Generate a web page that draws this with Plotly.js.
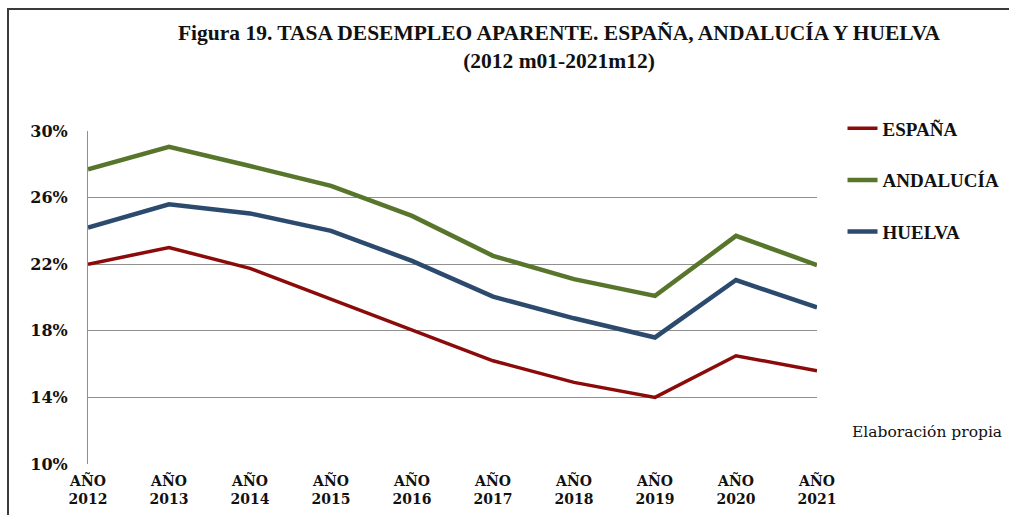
<!DOCTYPE html>
<html><head><meta charset="utf-8">
<script src="https://cdn.plot.ly/plotly-3.0.1.min.js"></script>
<style>
html,body{margin:0;padding:0;background:#fff;overflow:hidden;}
#wrap{position:relative;width:1009px;height:515px;overflow:hidden;}
#chart{width:1009px;height:515px;}
#frame{position:absolute;left:7px;top:8px;width:1200px;height:700px;border-left:2px solid #3a3a3a;border-top:2px solid #3a3a3a;pointer-events:none;}
</style></head>
<body>
<div id="wrap"><div id="chart"></div><div id="frame"></div></div>
<script>
const years = ["2012","2013","2014","2015","2016","2017","2018","2019","2020","2021"];
const categories = years.map(y => "AÑO<br>" + y);
const espana    = [22.0, 23.0, 21.75, 19.9, 18.05, 16.2, 14.9, 14.0, 16.5, 15.6];
const andalucia = [27.7, 29.05, 27.9, 26.7, 24.9, 22.5, 21.1, 20.1, 23.7, 21.95];
const huelva    = [24.2, 25.6, 25.05, 24.0, 22.2, 20.05, 18.75, 17.6, 21.05, 19.4];
const seriesNames = ["ESPAÑA", "ANDALUCÍA", "HUELVA"];
const yTicks = [10, 14, 18, 22, 26, 30];

const serif = "Liberation Serif, DejaVu Serif, serif";
const dserif = "DejaVu Serif, serif";
const colors = ["#8b0a0a", "#58762b", "#2c4a6e"];
const widths = [3.5, 4.5, 4.5];
const data = [espana, andalucia, huelva].map((vals, i) => ({
  type: "scatter", mode: "lines", x: categories, y: vals, name: seriesNames[i],
  legendgroup: "g" + i,
  line: {color: colors[i], width: widths[i]},
  hoverinfo: "skip"
}));

const layout = {
  width: 1009, height: 515,
  margin: {l: 88, r: 192, t: 131, b: 51, autoexpand: false},
  paper_bgcolor: "#fff", plot_bgcolor: "#fff",
  showlegend: true,
  title: {
    text: "Figura 19. TASA DESEMPLEO APARENTE. ESPAÑA, ANDALUCÍA Y HUELVA<br>(2012 m01-2021m12)",
    font: {family: serif, size: 21.5, color: "#111", weight: "bold"},
    x: 0.554, xref: "container", xanchor: "center",
    y: 0.922, yref: "container", yanchor: "top"
  },
  xaxis: {
    type: "category", range: [0, 9], showgrid: false, zeroline: false,
    showline: false, ticks: "", ticklabelstandoff: 7,
    tickfont: {family: dserif, size: 14, color: "#111", weight: "bold"}
  },
  yaxis: {
    range: [10, 30], tickvals: yTicks, ticktext: yTicks.map(v => v + "%"),
    showgrid: true, gridcolor: "#8f8f8f", gridwidth: 1,
    showline: true, linecolor: "#8f8f8f", linewidth: 1,
    zeroline: false, ticks: "", ticklabelstandoff: 16,
    tickfont: {family: dserif, size: 16, color: "#111", weight: "bold"}
  },
  legend: {
    x: 1.035, xanchor: "left", y: 1.065, yanchor: "top",
    font: {family: serif, size: 19, color: "#111", weight: "bold"},
    tracegroupgap: 24, traceorder: "grouped", bgcolor: "rgba(0,0,0,0)"
  },
  annotations: [{
    text: "Elaboración propia", xref: "paper", yref: "paper",
    x: 1.256, xanchor: "right", y: 0.095, yanchor: "middle", showarrow: false,
    font: {family: dserif, size: 15.5, color: "#111"}
  }]
};

Plotly.newPlot("chart", data, layout, {displayModeBar: false, staticPlot: true});
</script>
</body></html>
